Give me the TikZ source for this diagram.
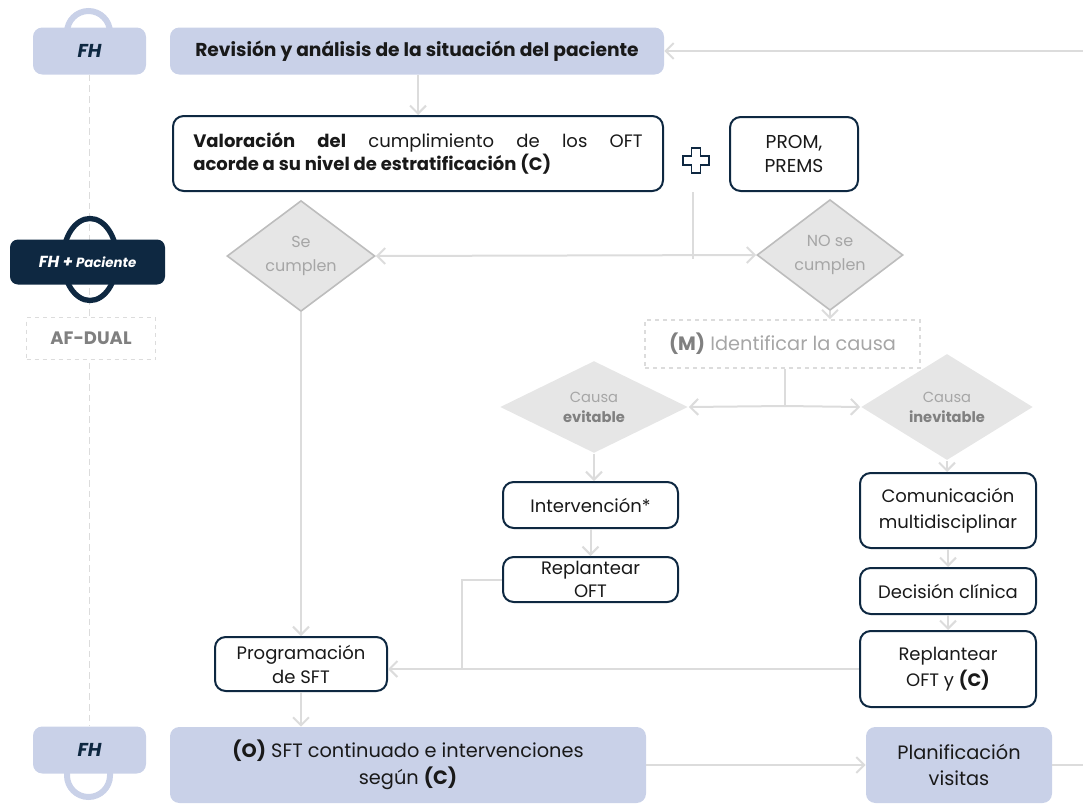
\documentclass[tikz,border=0pt]{standalone}
\usepackage{fontspec}
\setmainfont{Poppins}
\usetikzlibrary{positioning,shapes.geometric,arrows.meta}

\definecolor{lav}{HTML}{C9D1E8}
\definecolor{navy}{HTML}{0E2841}
\definecolor{lgray}{HTML}{DCDCDC}
\definecolor{dfill}{HTML}{E6E6E6}
\definecolor{dline}{HTML}{BDBDBD}
\definecolor{dtext}{HTML}{A6A6A6}
\definecolor{mtext}{HTML}{808080}

\begin{document}
\begin{tikzpicture}[x=0.75pt,y=-0.75pt,
    every node/.style={font=\fontsize{13.5}{19.5}\selectfont, text=black!90},
    boxsize/.style 2 args={minimum width=#1*0.75pt, minimum height=#2*0.75pt},
    lavbox/.style={fill=lav, rounded corners=7pt, inner sep=0pt, align=center},
    navybox/.style={draw=navy, line width=1.5pt, fill=white, rounded corners=8pt, inner sep=0pt, align=center},
    diam/.style={diamond, fill=dfill, draw=dline, line width=1.2pt, text=dtext, align=center, inner sep=0pt,
        font=\fontsize{12}{18}\selectfont},
    flow/.style={draw=lgray, line width=1.5pt, -{Straight Barb[length=6pt,width=12pt]}},
    link/.style={draw=lgray, line width=1.5pt}]
    \useasboundingbox (0,0) rectangle (1083,807);

    % Left column: actors
    \draw[lav, line width=4.5pt] (67,40) -- (67,32.5) arc (180:360:21.5) -- (110,40);
    \draw[lav, line width=4.5pt] (67,765) -- (67,775.5) arc (180:0:21.5) -- (110,765);
    \node[lavbox, boxsize={113}{47}, text=navy, font=\fontsize{14}{16}\selectfont\bfseries\itshape] (fhtop) at (89.5,51) {FH};
    \node[lavbox, boxsize={113}{47}, text=navy, font=\fontsize{14}{16}\selectfont\bfseries\itshape] (fhbot) at (89.5,750) {FH};
    \draw[lgray, line width=1.2pt, dash pattern=on 5pt off 3pt] (fhtop.south) -- (fhbot.north);
    \draw[navy, line width=4pt] (90,259.5) ellipse (27 and 41);
    \node[fill=navy, rounded corners=6pt, boxsize={155}{45}, inner sep=0pt, text=white,
        font=\bfseries\itshape] (fhpac) at (87.5,262) {{\fontsize{12}{14}\selectfont FH +} {\fontsize{10}{12}\selectfont Paciente}};
    \node[draw=lgray, dashed, line width=1.2pt, fill=white, boxsize={129}{42}, inner sep=0pt, text=mtext,
        font=\fontsize{13.5}{15}\selectfont\bfseries] (afdual) at (91,338.5) {AF-DUAL};

    % Top of the flow
    \node[lavbox, boxsize={494}{47}, font=\fontsize{14}{16}\selectfont\bfseries] (revision) at (417,51) {Revisión y análisis de la situación del paciente};
    \node[navybox, boxsize={490}{75}, align=left, font=\fontsize{13.5}{17.5}\selectfont] (valor) at (418,153.5) {%
        \hbox to 337pt{\textbf{Valoración}\hfill\textbf{del}\hfill cumplimiento\hfill de\hfill los\hfill OFT}\\
        \textbf{acorde a su nivel de estratificación (C)}\hspace*{50pt}};
    \node[navybox, boxsize={128}{74}, font=\fontsize{14}{18}\selectfont] (prom) at (794,154) {PROM,\\PREMS};
    \draw[navy, line width=1.2pt, shift={(696,160.5)}]
        (-4.5,-12.5) -- (4.5,-12.5) -- (4.5,-4.5) -- (13,-4.5) -- (13,4.5) -- (4.5,4.5)
        -- (4.5,12.5) -- (-4.5,12.5) -- (-4.5,4.5) -- (-13,4.5) -- (-13,-4.5) -- (-4.5,-4.5) -- cycle;

    % Decisions
    \node[diam, boxsize={148}{93}] (secump) at (301,256) {Se\\cumplen};
    \node[diam, boxsize={146}{90}] (nosecump) at (830,255) {NO se\\cumplen};
    \node[draw=lgray, dashed, line width=1.2pt, boxsize={275}{48}, inner sep=0pt, text=dtext,
        font=\fontsize{14.5}{17}\selectfont] (causa) at (782.5,344) {\textcolor{mtext}{\bfseries(M)} Identificar la causa};
    \node[diam, draw=none, boxsize={188}{86}, font=\fontsize{11}{15}\selectfont] (evit) at (594,407) {Causa\\\textcolor{mtext}{\bfseries evitable}};
    \node[diam, draw=none, boxsize={172}{86}, font=\fontsize{11}{15}\selectfont] (inevit) at (947,407) {Causa\\\textcolor{mtext}{\bfseries inevitable}};

    % Avoidable branch
    \node[navybox, boxsize={175}{46}] (interv) at (590.5,505) {Intervención*};
    \node[navybox, boxsize={175}{45}, font=\fontsize{13.5}{17}\selectfont] (repoft) at (590.5,579.5) {Replantear\\OFT};
    \node[navybox, boxsize={172}{54}, font=\fontsize{13.5}{18}\selectfont] (prog) at (301,664) {Programación\\de SFT};

    % Unavoidable branch
    \node[navybox, boxsize={176}{75}] (comun) at (948,510.5) {Comunicación\\multidisciplinar};
    \node[navybox, boxsize={176}{46}] (decis) at (948,591) {Decisión clínica};
    \node[navybox, boxsize={176}{76}] (repoftc) at (948,669) {Replantear\\OFT y \textbf{(C)}};

    % Bottom of the flow
    \node[lavbox, boxsize={476}{76}, font=\fontsize{14.5}{20}\selectfont] (sft) at (408,765) {\textbf{(O)} SFT continuado e intervenciones\\según \textbf{(C)}};
    \node[lavbox, boxsize={186}{76}, font=\fontsize{14.5}{20}\selectfont] (plan) at (959,765) {Planificación\\visitas};

    % Connectors
    \coordinate (inR) at (1083,51);
    \coordinate (outR) at (1083,765);
    \coordinate (plustop) at (693,192);
    \coordinate (plusbot) at (693,259);
    \coordinate (split) at (785,406);
    \coordinate (bend) at (462,579.5);
    \draw[flow] (inR) -- (revision.east);
    \draw[flow] (revision.south -| valor.north) -- (valor.north);
    \draw[link] (plustop) -- (plusbot);
    \draw[link, {Straight Barb[length=6pt,width=12pt]}-{Straight Barb[length=6pt,width=12pt]}] (secump.east) -- (nosecump.west);
    \draw[flow] (nosecump.south) -- (causa.north -| nosecump.south);
    \draw[link] (causa.south -| split) -- (split);
    \draw[flow] (split) -- (evit.east);
    \draw[flow] (split) -- (inevit.west);
    \draw[flow] (evit.south) -- (interv.north -| evit.south);
    \draw[flow] (interv.south) -- (repoft.north);
    \draw[flow] (inevit.south) -- (comun.north -| inevit.south);
    \draw[flow] (comun.south) -- (decis.north);
    \draw[flow] (decis.south) -- (repoftc.north);
    \draw[flow] (repoftc.west) -- (repoftc.west -| prog.east);
    \draw[link] (repoft.west) -- (bend) -- (bend |- repoftc.west);
    \draw[flow] (secump.south) -- (prog.north);
    \draw[flow] (prog.south) -- (sft.north -| prog.south);
    \draw[flow] (sft.east) -- (plan.west);
    \draw[link] (plan.east) -- (outR);
\end{tikzpicture}
\end{document}
